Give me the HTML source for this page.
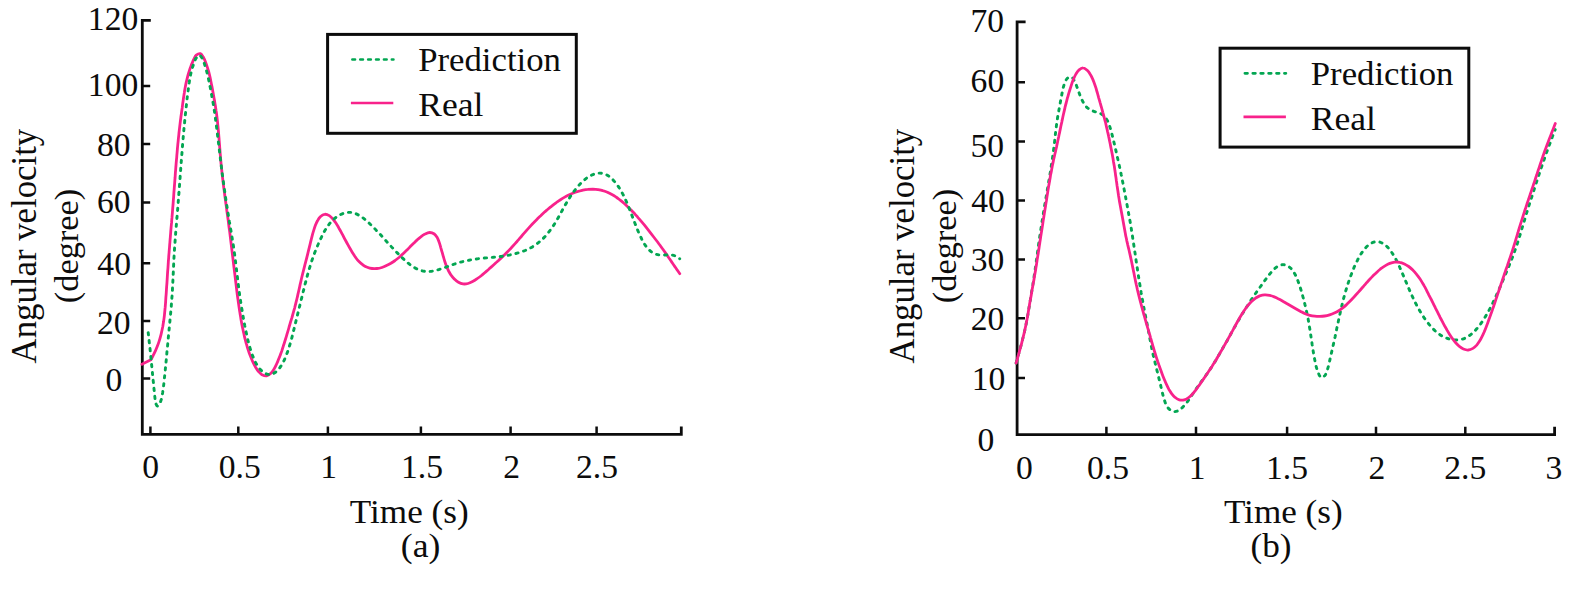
<!DOCTYPE html>
<html lang="en"><head><meta charset="utf-8"><title>Angular velocity: prediction vs real</title>
<style>html,body{margin:0;padding:0;background:#fff}svg{display:block}text{font-family:"Liberation Serif","Times New Roman",Times,serif;font-size:33.6px;fill:#0c0c0c}</style></head><body>
<svg width="1587" height="593" viewBox="0 0 1587 593">
<rect width="1587" height="593" fill="#fff"/>
<path d="M150.8 20.4H142.3V434.4H681.3V426.4" fill="none" stroke="#0c0c0c" stroke-width="2.8"/>
<path d="M142.3 86.1h7.9M142.3 144.0h7.9M142.3 202.6h7.9M142.3 263.3h7.9M142.3 321.0h7.9M142.3 378.4h7.9M150.4 434.4v-8M238.3 434.4v-8M327.9 434.4v-8M420.9 434.4v-8M510.6 434.4v-8M596.6 434.4v-8" fill="none" stroke="#0c0c0c" stroke-width="2.5"/>
<path d="M141.9 364.3L150.9 359.8C151.3 359.1 152.5 356.9 153.2 355.4C154.0 353.9 154.7 352.4 155.4 350.9C156.1 349.4 156.7 347.8 157.3 346.3C157.9 344.7 158.5 343.1 159.0 341.6C159.5 340.0 160.0 338.4 160.4 336.8C160.9 335.1 161.3 333.5 161.6 331.9C162.0 330.3 162.3 328.6 162.7 327.0C163.0 325.4 163.2 323.7 163.5 322.1C163.7 320.4 164.0 318.8 164.2 317.1C164.4 315.5 164.6 313.8 164.7 312.1C164.9 310.5 165.0 308.8 165.2 307.2C165.3 305.5 165.5 303.8 165.6 302.2C165.7 300.5 165.8 298.9 165.9 297.2C166.1 295.5 166.2 293.9 166.3 292.2C166.4 290.5 166.5 288.9 166.6 287.2C166.7 285.6 166.9 283.9 167.0 282.2C167.1 280.6 167.2 278.9 167.3 277.2C167.4 275.6 167.5 273.9 167.6 272.2C167.7 270.6 167.9 268.9 168.0 267.3C168.1 265.6 168.2 263.9 168.3 262.3C168.4 260.6 168.6 258.9 168.7 257.3C168.8 255.6 168.9 254.0 169.1 252.3C169.2 250.6 169.3 249.0 169.5 247.3C169.6 245.6 169.7 244.0 169.9 242.3C170.0 240.7 170.1 239.0 170.3 237.3C170.4 235.7 170.6 234.0 170.7 232.4C170.8 230.7 171.0 229.0 171.1 227.4C171.3 225.7 171.4 224.0 171.6 222.4C171.7 220.7 171.8 219.1 172.0 217.4C172.1 215.7 172.3 214.1 172.4 212.4C172.5 210.8 172.7 209.1 172.8 207.4C172.9 205.8 173.1 204.1 173.2 202.4C173.3 200.8 173.4 199.1 173.6 197.5C173.7 195.8 173.8 194.1 173.9 192.5C174.1 190.8 174.2 189.1 174.3 187.5C174.4 185.8 174.6 184.2 174.7 182.5C174.8 180.8 174.9 179.2 175.1 177.5C175.2 175.8 175.3 174.2 175.4 172.5C175.6 170.9 175.7 169.2 175.8 167.5C176.0 165.9 176.1 164.2 176.2 162.6C176.4 160.9 176.5 159.2 176.7 157.6C176.8 155.9 176.9 154.2 177.1 152.6C177.2 150.9 177.4 149.3 177.5 147.6C177.7 145.9 177.8 144.3 178.0 142.6C178.2 141.0 178.3 139.3 178.5 137.7C178.7 136.0 178.9 134.3 179.0 132.7C179.2 131.0 179.4 129.4 179.6 127.7C179.8 126.1 180.0 124.4 180.2 122.7C180.4 121.1 180.6 119.4 180.8 117.8C181.0 116.1 181.3 114.5 181.5 112.8C181.7 111.2 181.9 109.5 182.2 107.9C182.4 106.2 182.6 104.6 182.8 102.9C183.1 101.3 183.3 99.6 183.5 98.0C183.8 96.3 184.0 94.7 184.3 93.0C184.5 91.4 184.8 89.7 185.1 88.1C185.4 86.4 185.7 84.8 186.0 83.2C186.4 81.5 186.8 79.9 187.2 78.3C187.6 76.7 188.0 75.1 188.5 73.5C189.0 71.9 189.5 70.3 190.0 68.7C190.6 67.1 191.1 65.6 191.7 64.0C192.4 62.5 193.0 60.9 193.7 59.4C194.5 57.9 195.2 56.1 196.3 55.1C197.4 54.2 199.3 53.3 200.5 53.7C201.7 54.1 202.7 56.2 203.5 57.6C204.4 59.0 205.0 60.6 205.6 62.2C206.2 63.7 206.7 65.3 207.2 66.9C207.7 68.5 208.2 70.1 208.7 71.7C209.1 73.3 209.5 74.9 209.9 76.5C210.3 78.2 210.6 79.8 210.9 81.4C211.2 83.1 211.5 84.7 211.9 86.3C212.2 88.0 212.5 89.6 212.8 91.3C213.1 92.9 213.4 94.5 213.7 96.2C214.0 97.8 214.3 99.5 214.6 101.1C214.8 102.7 215.1 104.4 215.4 106.0C215.6 107.7 215.9 109.3 216.1 111.0C216.4 112.6 216.6 114.3 216.8 115.9C217.0 117.6 217.2 119.3 217.4 120.9C217.6 122.6 217.7 124.2 217.9 125.9C218.1 127.5 218.2 129.2 218.4 130.9C218.5 132.5 218.7 134.2 218.8 135.8C219.0 137.5 219.1 139.2 219.2 140.8C219.3 142.5 219.5 144.2 219.6 145.8C219.7 147.5 219.9 149.1 220.0 150.8C220.1 152.5 220.2 154.1 220.4 155.8C220.5 157.4 220.7 159.1 220.8 160.8C220.9 162.4 221.1 164.1 221.3 165.8C221.4 167.4 221.6 169.1 221.8 170.7C221.9 172.4 222.1 174.0 222.3 175.7C222.5 177.4 222.7 179.0 222.9 180.7C223.1 182.3 223.3 184.0 223.5 185.6C223.7 187.3 223.9 188.9 224.2 190.6C224.4 192.2 224.6 193.9 224.8 195.5C225.0 197.2 225.3 198.8 225.5 200.5C225.7 202.2 225.9 203.8 226.2 205.5C226.4 207.1 226.6 208.8 226.8 210.4C227.1 212.1 227.3 213.7 227.5 215.4C227.7 217.0 228.0 218.7 228.2 220.3C228.4 222.0 228.6 223.6 228.8 225.3C229.0 226.9 229.2 228.6 229.5 230.2C229.7 231.9 229.9 233.6 230.1 235.2C230.3 236.9 230.5 238.5 230.7 240.2C230.9 241.8 231.1 243.5 231.3 245.1C231.5 246.8 231.7 248.4 231.9 250.1C232.1 251.8 232.3 253.4 232.5 255.1C232.7 256.7 232.9 258.4 233.1 260.0C233.3 261.7 233.5 263.3 233.7 265.0C233.9 266.6 234.1 268.3 234.3 270.0C234.5 271.6 234.7 273.3 234.9 274.9C235.1 276.6 235.3 278.2 235.5 279.9C235.7 281.6 235.9 283.2 236.1 284.9C236.3 286.5 236.5 288.2 236.7 289.8C236.9 291.5 237.1 293.1 237.3 294.8C237.5 296.4 237.8 298.1 238.0 299.7C238.2 301.4 238.5 303.0 238.7 304.7C238.9 306.3 239.2 308.0 239.4 309.6C239.7 311.3 240.0 312.9 240.2 314.6C240.5 316.2 240.8 317.9 241.0 319.5C241.3 321.2 241.6 322.8 241.9 324.4C242.2 326.1 242.6 327.7 242.9 329.3C243.2 331.0 243.6 332.6 244.0 334.2C244.3 335.9 244.7 337.5 245.1 339.1C245.5 340.7 246.0 342.3 246.4 343.9C246.9 345.5 247.3 347.1 247.8 348.7C248.4 350.3 248.9 351.9 249.4 353.5C250.0 355.0 250.6 356.6 251.2 358.1C251.8 359.7 252.5 361.2 253.2 362.7C253.9 364.2 254.7 365.7 255.5 367.1C256.4 368.6 257.2 370.0 258.3 371.3C259.4 372.5 260.6 373.9 262.0 374.7C263.4 375.4 265.2 376.1 266.7 375.8C268.2 375.6 269.7 374.3 270.9 373.2C272.1 372.1 273.0 370.6 273.9 369.2C274.8 367.8 275.5 366.3 276.2 364.8C277.0 363.3 277.6 361.8 278.2 360.2C278.9 358.7 279.5 357.1 280.1 355.6C280.7 354.0 281.2 352.4 281.8 350.9C282.3 349.3 282.8 347.7 283.3 346.1C283.9 344.5 284.4 342.9 284.8 341.4C285.3 339.8 285.8 338.2 286.3 336.6C286.8 335.0 287.2 333.4 287.7 331.8C288.2 330.2 288.7 328.6 289.1 327.0C289.6 325.4 290.1 323.8 290.5 322.2C291.0 320.6 291.5 319.0 292.0 317.4C292.4 315.8 292.9 314.2 293.3 312.6C293.8 311.0 294.2 309.4 294.7 307.8C295.1 306.1 295.5 304.5 295.9 302.9C296.3 301.3 296.7 299.7 297.1 298.0C297.5 296.4 297.8 294.8 298.2 293.2C298.6 291.5 298.9 289.9 299.3 288.3C299.7 286.7 300.0 285.0 300.4 283.4C300.8 281.8 301.1 280.2 301.5 278.5C301.9 276.9 302.3 275.3 302.7 273.7C303.1 272.1 303.5 270.4 303.9 268.8C304.3 267.2 304.7 265.6 305.1 264.0C305.5 262.4 306.0 260.7 306.4 259.1C306.8 257.5 307.2 255.9 307.6 254.3C308.0 252.7 308.4 251.0 308.8 249.4C309.2 247.8 309.6 246.2 310.0 244.6C310.4 242.9 310.8 241.3 311.2 239.7C311.6 238.1 312.0 236.5 312.4 234.9C312.8 233.3 313.3 231.6 313.8 230.1C314.3 228.5 314.8 226.9 315.4 225.3C316.0 223.8 316.7 222.2 317.5 220.8C318.3 219.3 319.2 217.8 320.3 216.7C321.5 215.6 323.1 214.4 324.6 214.3C326.1 214.1 327.9 214.8 329.3 215.6C330.7 216.4 331.8 217.8 332.9 219.0C334.0 220.3 335.0 221.7 335.9 223.0C336.8 224.4 337.7 225.9 338.5 227.3C339.3 228.8 340.1 230.2 340.9 231.7C341.7 233.2 342.5 234.6 343.3 236.1C344.0 237.6 344.8 239.1 345.6 240.5C346.4 242.0 347.2 243.5 348.0 244.9C348.8 246.4 349.6 247.8 350.5 249.3C351.3 250.7 352.1 252.2 353.0 253.6C353.9 255.0 354.8 256.4 355.8 257.7C356.8 259.1 357.8 260.4 359.0 261.6C360.2 262.8 361.4 263.9 362.8 264.8C364.1 265.8 365.6 266.6 367.2 267.2C368.7 267.8 370.4 268.3 372.0 268.5C373.6 268.7 375.3 268.7 377.0 268.5C378.6 268.4 380.3 268.0 381.9 267.5C383.4 267.0 385.0 266.4 386.5 265.6C388.0 264.9 389.5 264.1 390.9 263.3C392.3 262.4 393.7 261.5 395.1 260.5C396.4 259.5 397.7 258.5 399.0 257.5C400.3 256.4 401.5 255.3 402.7 254.1C404.0 253.0 405.1 251.8 406.3 250.6C407.5 249.4 408.7 248.3 409.8 247.1C411.0 245.9 412.2 244.7 413.4 243.5C414.6 242.4 415.7 241.2 417.0 240.1C418.2 238.9 419.4 237.8 420.8 236.8C422.1 235.8 423.5 234.8 425.0 234.1C426.4 233.4 428.1 232.5 429.7 232.5C431.2 232.5 433.0 233.1 434.3 234.0C435.6 234.9 436.5 236.5 437.4 237.9C438.2 239.4 438.7 241.0 439.3 242.6C439.8 244.1 440.3 245.7 440.7 247.3C441.2 248.9 441.6 250.5 442.1 252.2C442.6 253.8 443.0 255.4 443.5 257.0C443.9 258.6 444.4 260.2 444.9 261.7C445.4 263.3 446.0 264.9 446.6 266.5C447.2 268.0 447.9 269.6 448.6 271.0C449.4 272.5 450.2 274.0 451.2 275.3C452.1 276.7 453.2 278.0 454.4 279.1C455.6 280.3 456.9 281.4 458.4 282.2C459.8 283.0 461.4 283.7 463.0 283.9C464.6 284.1 466.4 283.9 468.0 283.5C469.6 283.1 471.1 282.3 472.6 281.5C474.0 280.8 475.5 279.9 476.8 278.9C478.2 278.0 479.6 277.0 480.9 276.0C482.2 275.0 483.5 273.9 484.7 272.8C486.0 271.7 487.2 270.6 488.5 269.5C489.7 268.4 490.9 267.2 492.2 266.1C493.4 265.0 494.7 263.9 495.9 262.8C497.1 261.7 498.4 260.6 499.6 259.4C500.8 258.3 502.1 257.2 503.3 256.0C504.5 254.9 505.7 253.7 506.8 252.5C508.0 251.3 509.2 250.1 510.3 248.9C511.5 247.7 512.6 246.5 513.7 245.2C514.8 244.0 515.9 242.7 517.0 241.5C518.1 240.2 519.2 239.0 520.3 237.7C521.4 236.4 522.5 235.2 523.5 233.9C524.6 232.7 525.7 231.4 526.8 230.1C527.9 228.9 529.1 227.7 530.2 226.4C531.3 225.2 532.4 224.0 533.6 222.8C534.7 221.6 535.9 220.4 537.1 219.2C538.3 218.0 539.4 216.8 540.7 215.7C541.9 214.5 543.1 213.4 544.3 212.3C545.6 211.2 546.8 210.1 548.1 209.0C549.4 208.0 550.7 206.9 552.0 205.9C553.3 204.8 554.6 203.8 556.0 202.8C557.3 201.9 558.7 200.9 560.1 200.0C561.5 199.1 562.9 198.2 564.3 197.4C565.8 196.5 567.2 195.7 568.7 195.0C570.2 194.3 571.8 193.6 573.3 193.0C574.9 192.4 576.4 191.8 578.0 191.4C579.6 190.9 581.3 190.5 582.9 190.1C584.5 189.8 586.2 189.5 587.8 189.4C589.5 189.2 591.2 189.1 592.8 189.1C594.5 189.2 596.2 189.3 597.8 189.6C599.4 189.9 601.1 190.2 602.7 190.7C604.3 191.1 605.9 191.7 607.4 192.3C608.9 193.0 610.4 193.7 611.9 194.5C613.4 195.3 614.8 196.2 616.2 197.1C617.5 198.1 618.9 199.1 620.2 200.1C621.5 201.1 622.8 202.2 624.0 203.3C625.3 204.4 626.5 205.5 627.7 206.7C628.9 207.8 630.1 209.0 631.3 210.2C632.4 211.4 633.6 212.6 634.7 213.8C635.8 215.1 636.9 216.3 638.0 217.6C639.1 218.8 640.2 220.1 641.3 221.4C642.3 222.6 643.4 223.9 644.5 225.2C645.5 226.5 646.5 227.8 647.6 229.1C648.6 230.4 649.6 231.7 650.7 233.1C651.7 234.4 652.7 235.7 653.7 237.0C654.7 238.3 655.8 239.7 656.8 241.0C657.8 242.3 658.8 243.7 659.8 245.0C660.7 246.3 661.7 247.7 662.7 249.0C663.7 250.4 664.6 251.7 665.6 253.1C666.6 254.5 667.5 255.9 668.4 257.2C669.4 258.6 670.3 260.0 671.3 261.4C672.2 262.7 673.1 264.1 674.1 265.5C675.0 266.9 676.0 268.2 676.9 269.6C677.9 271.0 679.3 273.0 679.8 273.7" fill="none" stroke="#F8228B" stroke-width="2.8" stroke-linecap="round" stroke-linejoin="round"/>
<path d="M148.2 332.6C148.3 333.4 148.6 335.9 148.8 337.6C149.0 339.2 149.1 340.9 149.3 342.6C149.5 344.2 149.7 345.9 149.9 347.5C150.1 349.2 150.2 350.9 150.4 352.5C150.6 354.2 150.8 355.9 150.9 357.5C151.1 359.2 151.3 360.8 151.4 362.5C151.6 364.2 151.7 365.8 151.9 367.5C152.1 369.2 152.2 370.8 152.4 372.5C152.5 374.1 152.7 375.8 152.9 377.5C153.0 379.1 153.2 380.8 153.4 382.5C153.5 384.1 153.7 385.8 153.9 387.4C154.0 389.1 154.2 390.8 154.4 392.4C154.6 394.1 154.7 395.8 154.9 397.4C155.1 399.1 155.0 400.9 155.5 402.4C155.9 403.9 156.8 406.2 157.6 406.1C158.4 406.1 159.7 403.5 160.4 402.0C161.1 400.6 161.5 398.9 161.8 397.2C162.2 395.6 162.4 394.0 162.7 392.3C162.9 390.7 163.1 389.0 163.4 387.3C163.6 385.7 163.8 384.0 164.0 382.4C164.1 380.7 164.3 379.0 164.5 377.4C164.7 375.7 164.9 374.1 165.0 372.4C165.2 370.7 165.4 369.1 165.5 367.4C165.7 365.7 165.9 364.1 166.0 362.4C166.2 360.8 166.3 359.1 166.5 357.4C166.6 355.8 166.8 354.1 166.9 352.4C167.1 350.8 167.2 349.1 167.4 347.4C167.6 345.8 167.7 344.1 167.9 342.5C168.0 340.8 168.2 339.1 168.3 337.5C168.5 335.8 168.6 334.1 168.8 332.5C169.0 330.8 169.1 329.1 169.3 327.5C169.4 325.8 169.6 324.2 169.8 322.5C169.9 320.8 170.1 319.2 170.2 317.5C170.4 315.8 170.6 314.2 170.7 312.5C170.9 310.8 171.0 309.2 171.2 307.5C171.3 305.9 171.4 304.2 171.6 302.5C171.7 300.9 171.8 299.2 171.9 297.5C172.1 295.9 172.2 294.2 172.3 292.5C172.4 290.9 172.5 289.2 172.5 287.5C172.6 285.9 172.7 284.2 172.8 282.5C172.9 280.8 173.0 279.2 173.0 277.5C173.1 275.8 173.2 274.2 173.3 272.5C173.3 270.8 173.4 269.2 173.5 267.5C173.6 265.8 173.7 264.2 173.7 262.5C173.8 260.8 173.9 259.1 174.0 257.5C174.1 255.8 174.2 254.1 174.3 252.5C174.4 250.8 174.5 249.1 174.6 247.5C174.7 245.8 174.9 244.1 175.0 242.5C175.1 240.8 175.2 239.1 175.4 237.5C175.5 235.8 175.6 234.1 175.7 232.5C175.9 230.8 176.0 229.1 176.1 227.5C176.3 225.8 176.4 224.2 176.6 222.5C176.7 220.8 176.8 219.2 177.0 217.5C177.1 215.8 177.3 214.2 177.4 212.5C177.5 210.8 177.7 209.2 177.8 207.5C177.9 205.8 178.1 204.2 178.2 202.5C178.3 200.8 178.5 199.2 178.6 197.5C178.7 195.8 178.8 194.2 179.0 192.5C179.1 190.8 179.2 189.2 179.3 187.5C179.5 185.8 179.6 184.2 179.7 182.5C179.8 180.8 180.0 179.2 180.1 177.5C180.2 175.8 180.3 174.2 180.5 172.5C180.6 170.8 180.7 169.2 180.8 167.5C181.0 165.8 181.1 164.2 181.2 162.5C181.3 160.8 181.5 159.2 181.6 157.5C181.7 155.9 181.9 154.2 182.0 152.5C182.1 150.9 182.2 149.2 182.4 147.5C182.5 145.9 182.6 144.2 182.8 142.5C182.9 140.9 183.1 139.2 183.2 137.5C183.3 135.9 183.5 134.2 183.6 132.5C183.8 130.9 183.9 129.2 184.1 127.5C184.2 125.9 184.4 124.2 184.6 122.6C184.7 120.9 184.9 119.2 185.0 117.6C185.2 115.9 185.4 114.2 185.6 112.6C185.7 110.9 185.9 109.3 186.1 107.6C186.3 105.9 186.5 104.3 186.7 102.6C186.9 101.0 187.0 99.3 187.2 97.6C187.4 96.0 187.6 94.3 187.9 92.7C188.1 91.0 188.3 89.3 188.5 87.7C188.7 86.0 188.9 84.4 189.2 82.7C189.4 81.1 189.7 79.4 190.0 77.8C190.3 76.1 190.6 74.5 191.0 72.9C191.4 71.2 191.8 69.6 192.3 68.0C192.8 66.4 193.3 64.8 193.9 63.3C194.4 61.7 194.9 60.0 195.8 58.7C196.7 57.3 198.1 55.2 199.2 55.2C200.3 55.2 201.6 57.4 202.4 58.7C203.3 60.1 203.7 61.8 204.3 63.4C204.8 65.0 205.3 66.6 205.8 68.2C206.2 69.8 206.7 71.4 207.1 73.0C207.5 74.6 207.9 76.3 208.3 77.9C208.6 79.5 209.0 81.2 209.3 82.8C209.6 84.4 209.9 86.1 210.3 87.7C210.6 89.3 210.9 91.0 211.2 92.6C211.5 94.3 211.8 95.9 212.1 97.6C212.4 99.2 212.7 100.9 213.0 102.5C213.3 104.1 213.5 105.8 213.8 107.4C214.1 109.1 214.3 110.7 214.6 112.4C214.8 114.1 215.0 115.7 215.3 117.4C215.5 119.0 215.7 120.7 215.9 122.3C216.1 124.0 216.4 125.6 216.6 127.3C216.8 129.0 217.0 130.6 217.2 132.3C217.4 133.9 217.6 135.6 217.8 137.3C218.0 138.9 218.2 140.6 218.4 142.2C218.6 143.9 218.8 145.5 219.0 147.2C219.2 148.9 219.4 150.5 219.6 152.2C219.8 153.8 220.0 155.5 220.2 157.2C220.4 158.8 220.6 160.5 220.8 162.1C221.0 163.8 221.2 165.5 221.4 167.1C221.6 168.8 221.8 170.4 222.0 172.1C222.3 173.7 222.5 175.4 222.7 177.1C222.9 178.7 223.1 180.4 223.4 182.0C223.6 183.7 223.8 185.3 224.1 187.0C224.3 188.6 224.5 190.3 224.8 191.9C225.0 193.6 225.2 195.3 225.5 196.9C225.7 198.6 226.0 200.2 226.2 201.9C226.5 203.5 226.7 205.2 227.0 206.8C227.3 208.5 227.5 210.1 227.8 211.8C228.1 213.4 228.3 215.1 228.6 216.7C228.9 218.4 229.2 220.0 229.4 221.7C229.7 223.3 230.0 225.0 230.3 226.6C230.5 228.2 230.8 229.9 231.1 231.5C231.4 233.2 231.6 234.8 231.9 236.5C232.2 238.1 232.4 239.8 232.7 241.4C233.0 243.1 233.2 244.7 233.5 246.4C233.7 248.0 234.0 249.7 234.2 251.4C234.4 253.0 234.7 254.7 234.9 256.3C235.1 258.0 235.3 259.6 235.5 261.3C235.7 262.9 235.9 264.6 236.1 266.3C236.3 267.9 236.5 269.6 236.7 271.2C236.9 272.9 237.1 274.6 237.3 276.2C237.5 277.9 237.7 279.5 237.9 281.2C238.1 282.9 238.3 284.5 238.5 286.2C238.7 287.8 238.9 289.5 239.1 291.1C239.4 292.8 239.6 294.5 239.8 296.1C240.1 297.8 240.3 299.4 240.6 301.1C240.8 302.7 241.1 304.4 241.4 306.0C241.6 307.7 241.9 309.3 242.2 311.0C242.4 312.6 242.7 314.3 243.0 315.9C243.3 317.6 243.6 319.2 243.9 320.8C244.2 322.5 244.5 324.1 244.8 325.8C245.2 327.4 245.5 329.0 245.8 330.7C246.2 332.3 246.5 333.9 246.9 335.6C247.3 337.2 247.6 338.8 248.0 340.5C248.4 342.1 248.8 343.7 249.3 345.3C249.7 346.9 250.2 348.5 250.7 350.1C251.2 351.7 251.7 353.3 252.3 354.9C252.9 356.4 253.5 358.0 254.2 359.5C254.8 361.0 255.6 362.6 256.4 364.0C257.2 365.4 258.1 366.9 259.1 368.2C260.2 369.5 261.4 370.7 262.7 371.7C264.0 372.7 265.5 373.7 267.0 374.1C268.6 374.6 270.4 374.7 272.0 374.2C273.5 373.8 274.9 372.7 276.2 371.7C277.5 370.6 278.6 369.3 279.6 368.0C280.6 366.6 281.5 365.2 282.3 363.8C283.2 362.3 283.9 360.8 284.6 359.3C285.3 357.8 285.9 356.2 286.5 354.7C287.1 353.1 287.7 351.5 288.2 349.9C288.7 348.4 289.2 346.8 289.7 345.2C290.2 343.6 290.7 342.0 291.1 340.4C291.6 338.7 292.0 337.1 292.4 335.5C292.8 333.9 293.2 332.3 293.6 330.6C294.0 329.0 294.4 327.4 294.8 325.8C295.2 324.2 295.6 322.5 296.0 320.9C296.4 319.3 296.8 317.7 297.2 316.0C297.6 314.4 298.0 312.8 298.4 311.2C298.8 309.5 299.2 307.9 299.6 306.3C300.0 304.7 300.4 303.1 300.8 301.4C301.2 299.8 301.6 298.2 302.0 296.6C302.4 295.0 302.8 293.3 303.2 291.7C303.6 290.1 304.0 288.5 304.4 286.8C304.8 285.2 305.2 283.6 305.7 282.0C306.1 280.4 306.5 278.8 306.9 277.1C307.4 275.5 307.8 273.9 308.3 272.3C308.7 270.7 309.2 269.1 309.7 267.5C310.2 265.9 310.7 264.3 311.2 262.7C311.7 261.1 312.2 259.5 312.8 258.0C313.3 256.4 313.9 254.8 314.5 253.3C315.1 251.7 315.7 250.1 316.3 248.6C317.0 247.1 317.6 245.5 318.3 244.0C319.0 242.4 319.6 240.9 320.4 239.4C321.1 237.9 321.8 236.4 322.6 234.9C323.3 233.4 324.1 231.9 324.9 230.5C325.8 229.1 326.7 227.6 327.6 226.3C328.6 224.9 329.6 223.6 330.7 222.3C331.8 221.1 333.0 219.8 334.2 218.8C335.5 217.7 336.8 216.7 338.3 215.8C339.7 214.9 341.2 214.2 342.8 213.6C344.3 213.0 346.0 212.6 347.6 212.4C349.3 212.3 351.0 212.3 352.6 212.6C354.2 213.0 355.8 213.6 357.3 214.4C358.8 215.1 360.2 216.0 361.6 216.9C363.0 217.9 364.3 218.9 365.6 220.0C366.9 221.0 368.1 222.2 369.3 223.3C370.5 224.5 371.7 225.6 372.9 226.8C374.1 228.0 375.3 229.2 376.4 230.4C377.6 231.6 378.7 232.8 379.9 234.0C381.0 235.3 382.1 236.5 383.2 237.7C384.4 239.0 385.5 240.2 386.6 241.5C387.7 242.7 388.8 243.9 390.0 245.2C391.1 246.4 392.2 247.6 393.4 248.8C394.5 250.1 395.7 251.3 396.9 252.5C398.0 253.7 399.2 254.8 400.4 256.0C401.6 257.2 402.8 258.4 404.0 259.5C405.2 260.6 406.4 261.8 407.7 262.8C409.0 263.9 410.3 265.0 411.7 265.9C413.1 266.8 414.5 267.7 416.0 268.5C417.5 269.2 419.0 269.9 420.6 270.4C422.2 270.9 423.9 271.2 425.5 271.4C427.2 271.6 428.9 271.5 430.5 271.4C432.2 271.2 433.8 270.9 435.5 270.5C437.1 270.1 438.7 269.6 440.3 269.1C441.9 268.6 443.4 268.0 445.0 267.5C446.6 266.9 448.1 266.3 449.7 265.7C451.3 265.1 452.8 264.6 454.4 264.0C456.0 263.5 457.6 263.0 459.2 262.5C460.8 262.1 462.4 261.6 464.1 261.3C465.7 260.9 467.3 260.5 469.0 260.2C470.6 259.9 472.2 259.6 473.9 259.3C475.5 259.1 477.2 258.9 478.9 258.6C480.5 258.4 482.2 258.3 483.8 258.1C485.5 257.9 487.2 257.8 488.8 257.7C490.5 257.5 492.2 257.4 493.8 257.2C495.5 257.1 497.2 256.9 498.8 256.7C500.5 256.5 502.1 256.3 503.8 256.0C505.4 255.8 507.1 255.5 508.7 255.2C510.4 254.8 512.0 254.5 513.6 254.1C515.2 253.7 516.9 253.3 518.4 252.8C520.0 252.3 521.6 251.8 523.2 251.2C524.8 250.6 526.3 250.0 527.8 249.2C529.3 248.5 530.8 247.8 532.3 246.9C533.7 246.1 535.1 245.1 536.5 244.2C537.8 243.2 539.1 242.1 540.4 241.1C541.6 240.0 542.8 238.8 544.0 237.6C545.2 236.4 546.3 235.1 547.3 233.8C548.4 232.6 549.4 231.2 550.4 229.9C551.4 228.5 552.4 227.2 553.3 225.8C554.2 224.4 555.1 223.0 556.0 221.6C556.8 220.1 557.7 218.7 558.5 217.2C559.3 215.8 560.1 214.3 560.9 212.8C561.7 211.4 562.5 209.9 563.3 208.4C564.1 207.0 564.9 205.5 565.8 204.1C566.6 202.6 567.5 201.2 568.3 199.8C569.2 198.3 570.1 196.9 571.0 195.5C572.0 194.2 572.9 192.8 573.9 191.4C574.9 190.1 575.9 188.8 577.0 187.5C578.1 186.2 579.2 184.9 580.3 183.7C581.5 182.5 582.7 181.4 584.0 180.3C585.2 179.2 586.5 178.1 587.9 177.2C589.3 176.3 590.8 175.5 592.3 174.8C593.8 174.2 595.5 173.6 597.1 173.3C598.7 173.1 600.5 173.0 602.1 173.3C603.7 173.6 605.3 174.2 606.8 174.9C608.3 175.7 609.6 176.7 610.9 177.8C612.2 178.9 613.3 180.1 614.4 181.4C615.5 182.6 616.5 184.0 617.5 185.3C618.5 186.7 619.4 188.1 620.2 189.5C621.1 190.9 621.9 192.4 622.7 193.9C623.5 195.3 624.2 196.8 624.9 198.4C625.6 199.9 626.3 201.4 627.0 202.9C627.6 204.5 628.2 206.0 628.9 207.6C629.5 209.1 630.1 210.7 630.7 212.2C631.3 213.8 631.9 215.4 632.5 216.9C633.1 218.5 633.7 220.0 634.3 221.6C634.9 223.2 635.5 224.7 636.1 226.3C636.7 227.8 637.3 229.4 638.0 230.9C638.6 232.5 639.3 234.0 640.0 235.5C640.7 237.0 641.4 238.6 642.2 240.0C643.0 241.5 643.8 243.0 644.7 244.4C645.6 245.7 646.6 247.1 647.7 248.4C648.8 249.6 650.0 250.8 651.3 251.8C652.7 252.7 654.2 253.6 655.8 254.1C657.3 254.7 659.0 254.9 660.7 255.1C662.3 255.2 664.0 255.0 665.7 255.0C667.3 254.9 669.0 254.7 670.7 254.8C672.3 255.0 674.0 255.4 675.5 256.1C677.0 256.8 679.0 258.4 679.7 258.8" fill="none" stroke="#03A652" stroke-width="2.9" stroke-dasharray="2.3 5.7" stroke-linecap="round"/>
<text transform="matrix(1.0000 0 0 1.0300 87.84 30.30)">120</text>
<text transform="matrix(1.0000 0 0 1.0300 87.84 95.80)">100</text>
<text transform="matrix(1.0000 0 0 1.0300 97.00 155.50)">80</text>
<text transform="matrix(1.0000 0 0 1.0300 97.00 213.40)">60</text>
<text transform="matrix(1.0000 0 0 1.0300 97.34 275.20)">40</text>
<text transform="matrix(1.0000 0 0 1.0300 96.92 333.50)">20</text>
<text transform="matrix(1.0000 0 0 1.0300 105.40 390.60)">0</text>
<text transform="matrix(1.0000 0 0 1.0300 142.20 478.20)">0</text>
<text transform="matrix(1.0000 0 0 1.0300 218.70 478.20)">0.5</text>
<text transform="matrix(1.0000 0 0 1.0300 320.18 478.20)">1</text>
<text transform="matrix(1.0000 0 0 1.0300 400.94 478.20)">1.5</text>
<text transform="matrix(1.0000 0 0 1.0300 503.37 478.20)">2</text>
<text transform="matrix(1.0000 0 0 1.0300 576.02 478.20)">2.5</text>
<text transform="matrix(1.0468 0 0 1.0000 349.80 523.00)">Time (s)</text>
<text transform="matrix(1.0592 0 0 1.0000 400.80 556.50)">(a)</text>
<text transform="translate(36.40 363.45) rotate(-90) scale(1.0354 1.0400)">Angular velocity</text>
<text transform="translate(77.90 303.15) rotate(-90) scale(1.0226 1.0200)">(degree)</text>
<rect x="327.6" y="34.4" width="248.7" height="98.9" fill="#fff" stroke="#0c0c0c" stroke-width="3"/>
<path d="M352.4 59.5h41" fill="none" stroke="#03A652" stroke-width="2.7" stroke-dasharray="2.6 5.3" stroke-linecap="round"/>
<path d="M350.9 103.0h42.4" fill="none" stroke="#F8228B" stroke-width="2.7"/>
<text transform="matrix(1.0338 0 0 1.0000 418.21 71.40)">Prediction</text>
<text transform="matrix(1.0588 0 0 1.0000 418.18 116.30)">Real</text>
<path d="M1025.6 21.8H1017.1V434.7H1554.6V426.7" fill="none" stroke="#0c0c0c" stroke-width="2.8"/>
<path d="M1017.1 82.3h7.9M1017.1 141.4h7.9M1017.1 200.5h7.9M1017.1 259.5h7.9M1017.1 318.2h7.9M1017.1 377.9h7.9M1106.4 434.7v-8M1196.0 434.7v-8M1287.1 434.7v-8M1376.0 434.7v-8M1465.3 434.7v-8" fill="none" stroke="#0c0c0c" stroke-width="2.5"/>
<path d="M1016.1 363.1C1016.3 362.3 1017.0 359.9 1017.5 358.3C1017.9 356.7 1018.4 355.1 1018.8 353.5C1019.3 351.9 1019.7 350.3 1020.2 348.7C1020.6 347.1 1021.0 345.4 1021.5 343.8C1021.9 342.2 1022.3 340.6 1022.7 339.0C1023.1 337.4 1023.5 335.8 1023.9 334.1C1024.3 332.5 1024.7 330.9 1025.0 329.3C1025.4 327.6 1025.7 326.0 1026.1 324.4C1026.4 322.7 1026.7 321.1 1027.0 319.5C1027.3 317.8 1027.6 316.2 1027.9 314.5C1028.2 312.9 1028.4 311.2 1028.7 309.6C1029.0 308.0 1029.3 306.3 1029.5 304.7C1029.8 303.0 1030.1 301.4 1030.4 299.7C1030.6 298.1 1030.9 296.4 1031.2 294.8C1031.4 293.2 1031.7 291.5 1032.0 289.9C1032.3 288.2 1032.5 286.6 1032.8 284.9C1033.0 283.3 1033.3 281.6 1033.6 280.0C1033.8 278.3 1034.1 276.7 1034.3 275.0C1034.6 273.4 1034.8 271.7 1035.0 270.1C1035.3 268.4 1035.5 266.8 1035.8 265.1C1036.0 263.5 1036.2 261.8 1036.4 260.2C1036.7 258.5 1036.9 256.9 1037.1 255.2C1037.4 253.6 1037.6 251.9 1037.8 250.3C1038.0 248.6 1038.3 247.0 1038.5 245.3C1038.7 243.7 1039.0 242.0 1039.2 240.4C1039.4 238.7 1039.7 237.1 1039.9 235.4C1040.2 233.8 1040.4 232.1 1040.7 230.5C1040.9 228.8 1041.2 227.2 1041.4 225.5C1041.7 223.9 1041.9 222.2 1042.2 220.6C1042.5 219.0 1042.7 217.3 1043.0 215.7C1043.3 214.0 1043.5 212.4 1043.8 210.7C1044.1 209.1 1044.3 207.4 1044.6 205.8C1044.9 204.1 1045.2 202.5 1045.4 200.9C1045.7 199.2 1046.0 197.6 1046.3 195.9C1046.6 194.3 1046.9 192.6 1047.1 191.0C1047.4 189.4 1047.7 187.7 1048.0 186.1C1048.3 184.4 1048.5 182.8 1048.8 181.1C1049.1 179.5 1049.4 177.9 1049.7 176.2C1049.9 174.6 1050.2 172.9 1050.5 171.3C1050.7 169.6 1051.0 168.0 1051.2 166.3C1051.5 164.7 1051.8 163.0 1052.0 161.4C1052.2 159.7 1052.5 158.1 1052.7 156.4C1052.9 154.8 1053.2 153.1 1053.4 151.5C1053.6 149.8 1053.8 148.2 1054.0 146.5C1054.2 144.9 1054.4 143.2 1054.6 141.6C1054.8 139.9 1054.9 138.2 1055.1 136.6C1055.3 134.9 1055.5 133.3 1055.7 131.6C1055.9 130.0 1056.1 128.3 1056.3 126.6C1056.5 125.0 1056.7 123.3 1057.0 121.7C1057.2 120.0 1057.5 118.4 1057.7 116.8C1058.0 115.1 1058.3 113.5 1058.6 111.8C1058.9 110.2 1059.2 108.5 1059.5 106.9C1059.8 105.3 1060.1 103.6 1060.4 102.0C1060.7 100.4 1061.0 98.7 1061.3 97.1C1061.7 95.4 1061.9 93.8 1062.3 92.2C1062.6 90.5 1062.9 88.9 1063.3 87.3C1063.8 85.7 1064.2 84.1 1064.9 82.5C1065.6 81.0 1066.3 79.1 1067.5 78.2C1068.6 77.4 1070.5 76.7 1071.7 77.2C1072.9 77.7 1073.8 79.8 1074.6 81.3C1075.4 82.7 1076.0 84.3 1076.6 85.9C1077.2 87.4 1077.7 89.0 1078.3 90.6C1078.8 92.1 1079.4 93.7 1080.0 95.3C1080.6 96.8 1081.2 98.4 1082.0 99.9C1082.7 101.3 1083.5 102.9 1084.4 104.2C1085.4 105.6 1086.4 107.0 1087.6 108.0C1088.9 109.1 1090.4 110.0 1091.9 110.6C1093.4 111.3 1095.0 111.6 1096.6 112.2C1098.2 112.7 1099.9 113.1 1101.3 113.9C1102.7 114.7 1104.0 115.9 1105.1 117.1C1106.2 118.4 1107.0 119.9 1107.8 121.3C1108.5 122.8 1109.0 124.4 1109.6 126.0C1110.1 127.6 1110.6 129.2 1111.0 130.8C1111.5 132.4 1111.9 134.0 1112.3 135.6C1112.7 137.2 1113.1 138.8 1113.5 140.5C1113.9 142.1 1114.3 143.7 1114.7 145.3C1115.0 147.0 1115.4 148.6 1115.8 150.2C1116.2 151.8 1116.5 153.5 1116.9 155.1C1117.3 156.7 1117.6 158.3 1118.0 160.0C1118.4 161.6 1118.7 163.2 1119.1 164.8C1119.5 166.5 1119.8 168.1 1120.2 169.7C1120.5 171.3 1120.9 173.0 1121.2 174.6C1121.6 176.2 1121.9 177.9 1122.2 179.5C1122.5 181.1 1122.9 182.8 1123.2 184.4C1123.5 186.1 1123.8 187.7 1124.1 189.3C1124.4 191.0 1124.8 192.6 1125.1 194.2C1125.4 195.9 1125.7 197.5 1126.0 199.2C1126.3 200.8 1126.6 202.4 1126.9 204.1C1127.2 205.7 1127.5 207.3 1127.8 209.0C1128.1 210.6 1128.4 212.3 1128.7 213.9C1129.0 215.5 1129.3 217.2 1129.6 218.8C1129.9 220.5 1130.2 222.1 1130.5 223.8C1130.7 225.4 1131.0 227.1 1131.3 228.7C1131.5 230.3 1131.8 232.0 1132.1 233.6C1132.3 235.3 1132.6 236.9 1132.8 238.6C1133.1 240.2 1133.3 241.9 1133.6 243.5C1133.8 245.2 1134.1 246.8 1134.3 248.5C1134.6 250.1 1134.8 251.8 1135.1 253.4C1135.3 255.1 1135.5 256.7 1135.8 258.4C1136.0 260.0 1136.3 261.7 1136.5 263.3C1136.8 265.0 1137.0 266.6 1137.3 268.2C1137.5 269.9 1137.8 271.5 1138.0 273.2C1138.3 274.8 1138.5 276.5 1138.8 278.1C1139.1 279.8 1139.3 281.4 1139.6 283.1C1139.9 284.7 1140.1 286.4 1140.4 288.0C1140.7 289.7 1141.0 291.3 1141.2 292.9C1141.5 294.6 1141.8 296.2 1142.1 297.9C1142.4 299.5 1142.7 301.1 1143.0 302.8C1143.3 304.4 1143.6 306.1 1143.9 307.7C1144.2 309.3 1144.5 311.0 1144.8 312.6C1145.2 314.3 1145.5 315.9 1145.8 317.5C1146.1 319.2 1146.4 320.8 1146.8 322.4C1147.1 324.1 1147.4 325.7 1147.7 327.3C1148.1 329.0 1148.4 330.6 1148.7 332.2C1149.0 333.9 1149.3 335.5 1149.6 337.2C1149.9 338.8 1150.2 340.4 1150.6 342.1C1150.9 343.7 1151.2 345.3 1151.5 347.0C1151.8 348.6 1152.1 350.3 1152.5 351.9C1152.8 353.5 1153.2 355.1 1153.6 356.8C1153.9 358.4 1154.4 360.0 1154.8 361.6C1155.2 363.2 1155.6 364.9 1156.0 366.5C1156.4 368.1 1156.8 369.7 1157.2 371.3C1157.6 372.9 1158.0 374.6 1158.4 376.2C1158.8 377.8 1159.2 379.4 1159.6 381.0C1160.0 382.7 1160.4 384.3 1160.8 385.9C1161.1 387.5 1161.5 389.1 1161.9 390.8C1162.3 392.4 1162.7 394.0 1163.1 395.6C1163.5 397.2 1163.9 398.9 1164.5 400.4C1165.0 402.0 1165.5 403.6 1166.3 405.1C1167.1 406.5 1168.0 408.1 1169.2 409.1C1170.4 410.2 1172.0 411.3 1173.5 411.5C1175.0 411.8 1176.9 411.3 1178.3 410.7C1179.8 410.0 1181.1 408.7 1182.3 407.6C1183.5 406.5 1184.6 405.2 1185.7 403.9C1186.7 402.7 1187.7 401.3 1188.7 400.0C1189.7 398.6 1190.6 397.2 1191.5 395.8C1192.4 394.4 1193.3 393.0 1194.3 391.6C1195.2 390.3 1196.2 388.9 1197.1 387.5C1198.1 386.2 1199.1 384.8 1200.0 383.5C1201.0 382.1 1202.0 380.8 1203.0 379.4C1204.0 378.1 1204.9 376.7 1205.9 375.4C1206.9 374.0 1207.8 372.7 1208.8 371.3C1209.7 369.9 1210.7 368.5 1211.6 367.1C1212.5 365.7 1213.4 364.3 1214.2 362.9C1215.1 361.5 1216.0 360.1 1216.8 358.6C1217.6 357.2 1218.5 355.7 1219.3 354.3C1220.1 352.8 1220.9 351.4 1221.8 349.9C1222.6 348.5 1223.4 347.0 1224.3 345.6C1225.1 344.2 1225.9 342.7 1226.8 341.3C1227.6 339.8 1228.4 338.4 1229.2 336.9C1230.0 335.5 1230.8 334.0 1231.6 332.5C1232.4 331.1 1233.2 329.6 1234.0 328.2C1234.8 326.7 1235.6 325.2 1236.5 323.8C1237.3 322.3 1238.1 320.9 1239.0 319.4C1239.8 318.0 1240.7 316.6 1241.5 315.2C1242.4 313.7 1243.3 312.3 1244.2 310.9C1245.1 309.5 1246.0 308.1 1246.9 306.7C1247.8 305.3 1248.6 303.9 1249.5 302.5C1250.4 301.1 1251.3 299.7 1252.3 298.3C1253.2 296.9 1254.1 295.5 1255.1 294.1C1256.0 292.8 1257.0 291.4 1258.0 290.1C1258.9 288.7 1259.9 287.4 1260.9 286.0C1261.9 284.6 1262.8 283.3 1263.8 281.9C1264.8 280.6 1265.8 279.2 1266.8 277.9C1267.8 276.6 1268.8 275.2 1269.8 273.9C1270.9 272.7 1271.9 271.4 1273.1 270.2C1274.3 269.0 1275.5 267.8 1276.9 266.9C1278.3 266.0 1279.8 265.1 1281.4 264.8C1283.0 264.5 1284.8 264.7 1286.3 265.2C1287.8 265.8 1289.3 266.9 1290.5 268.0C1291.7 269.1 1292.7 270.5 1293.6 271.9C1294.5 273.2 1295.3 274.7 1296.0 276.2C1296.7 277.7 1297.3 279.3 1297.9 280.8C1298.5 282.4 1299.1 284.0 1299.6 285.6C1300.1 287.1 1300.6 288.7 1301.1 290.3C1301.6 291.9 1302.0 293.5 1302.5 295.1C1302.9 296.8 1303.4 298.4 1303.8 300.0C1304.2 301.6 1304.6 303.2 1305.0 304.8C1305.4 306.4 1305.8 308.1 1306.2 309.7C1306.5 311.3 1306.9 312.9 1307.2 314.6C1307.5 316.2 1307.9 317.8 1308.2 319.5C1308.5 321.1 1308.8 322.8 1309.0 324.4C1309.3 326.1 1309.6 327.7 1309.9 329.3C1310.1 331.0 1310.4 332.6 1310.6 334.3C1310.9 335.9 1311.1 337.6 1311.4 339.2C1311.6 340.9 1311.9 342.5 1312.1 344.2C1312.4 345.8 1312.6 347.5 1312.9 349.1C1313.1 350.8 1313.4 352.4 1313.7 354.1C1314.0 355.7 1314.2 357.3 1314.6 359.0C1314.9 360.6 1315.2 362.3 1315.5 363.9C1315.9 365.5 1316.3 367.1 1316.8 368.7C1317.3 370.3 1317.7 371.9 1318.5 373.4C1319.2 374.9 1320.1 377.2 1321.2 377.6C1322.3 377.9 1324.0 376.5 1325.0 375.4C1325.9 374.3 1326.4 372.4 1327.0 370.8C1327.6 369.3 1328.0 367.7 1328.5 366.0C1328.9 364.4 1329.2 362.8 1329.6 361.2C1329.9 359.6 1330.3 357.9 1330.7 356.3C1331.0 354.7 1331.4 353.0 1331.8 351.4C1332.2 349.8 1332.5 348.2 1332.9 346.5C1333.3 344.9 1333.6 343.3 1334.0 341.7C1334.4 340.0 1334.7 338.4 1335.1 336.8C1335.4 335.1 1335.8 333.5 1336.1 331.9C1336.4 330.3 1336.8 328.6 1337.1 327.0C1337.5 325.4 1337.8 323.7 1338.2 322.1C1338.5 320.5 1338.9 318.8 1339.2 317.2C1339.6 315.6 1340.0 314.0 1340.3 312.3C1340.7 310.7 1341.1 309.1 1341.5 307.5C1341.8 305.8 1342.2 304.2 1342.6 302.6C1343.0 301.0 1343.4 299.4 1343.8 297.7C1344.3 296.1 1344.7 294.5 1345.2 292.9C1345.6 291.3 1346.1 289.7 1346.6 288.1C1347.1 286.5 1347.6 285.0 1348.1 283.4C1348.6 281.8 1349.2 280.2 1349.7 278.6C1350.3 277.1 1350.9 275.5 1351.5 273.9C1352.1 272.4 1352.7 270.8 1353.3 269.3C1353.9 267.8 1354.6 266.2 1355.3 264.7C1356.0 263.2 1356.7 261.7 1357.5 260.2C1358.2 258.7 1359.0 257.2 1359.9 255.8C1360.7 254.4 1361.6 253.0 1362.6 251.6C1363.5 250.3 1364.6 248.9 1365.7 247.7C1366.8 246.5 1368.1 245.3 1369.4 244.4C1370.8 243.5 1372.3 242.5 1373.8 242.1C1375.4 241.7 1377.2 241.5 1378.8 241.8C1380.4 242.1 1382.0 242.9 1383.4 243.7C1384.8 244.6 1386.1 245.7 1387.3 246.9C1388.5 248.0 1389.5 249.3 1390.5 250.6C1391.5 252.0 1392.4 253.4 1393.3 254.8C1394.2 256.2 1395.0 257.7 1395.8 259.1C1396.6 260.6 1397.3 262.1 1398.0 263.6C1398.8 265.1 1399.5 266.6 1400.1 268.1C1400.8 269.7 1401.5 271.2 1402.1 272.7C1402.8 274.3 1403.4 275.8 1404.1 277.3C1404.7 278.9 1405.4 280.4 1406.0 281.9C1406.7 283.5 1407.3 285.0 1408.0 286.6C1408.6 288.1 1409.3 289.6 1409.9 291.1C1410.6 292.7 1411.3 294.2 1412.0 295.7C1412.7 297.2 1413.4 298.7 1414.1 300.2C1414.8 301.7 1415.6 303.2 1416.4 304.7C1417.1 306.2 1417.9 307.6 1418.8 309.1C1419.6 310.5 1420.4 312.0 1421.3 313.4C1422.2 314.8 1423.1 316.2 1424.0 317.6C1425.0 319.0 1426.0 320.3 1427.0 321.6C1428.0 323.0 1429.0 324.3 1430.1 325.5C1431.2 326.8 1432.3 328.1 1433.4 329.2C1434.6 330.4 1435.9 331.6 1437.1 332.6C1438.4 333.7 1439.8 334.6 1441.2 335.5C1442.6 336.4 1444.1 337.1 1445.7 337.8C1447.2 338.4 1448.8 338.9 1450.4 339.3C1452.0 339.7 1453.7 340.0 1455.4 340.0C1457.0 340.1 1458.7 340.0 1460.3 339.7C1462.0 339.3 1463.6 338.8 1465.1 338.1C1466.6 337.4 1468.0 336.5 1469.4 335.6C1470.8 334.6 1472.0 333.6 1473.3 332.4C1474.5 331.3 1475.6 330.1 1476.7 328.8C1477.8 327.6 1478.9 326.3 1479.9 324.9C1480.9 323.6 1481.8 322.2 1482.8 320.9C1483.7 319.5 1484.6 318.0 1485.4 316.6C1486.3 315.2 1487.1 313.7 1487.9 312.3C1488.7 310.8 1489.5 309.4 1490.3 307.9C1491.1 306.4 1491.8 304.9 1492.6 303.4C1493.3 301.9 1494.0 300.4 1494.7 298.9C1495.5 297.4 1496.1 295.9 1496.8 294.4C1497.5 292.9 1498.2 291.3 1498.9 289.8C1499.5 288.3 1500.2 286.8 1500.8 285.2C1501.5 283.7 1502.2 282.2 1502.8 280.6C1503.5 279.1 1504.1 277.6 1504.8 276.0C1505.4 274.5 1506.1 272.9 1506.7 271.4C1507.3 269.9 1508.0 268.3 1508.6 266.8C1509.3 265.2 1509.9 263.7 1510.5 262.2C1511.1 260.6 1511.8 259.1 1512.4 257.5C1513.0 256.0 1513.5 254.4 1514.1 252.8C1514.7 251.3 1515.2 249.7 1515.8 248.1C1516.3 246.5 1516.9 245.0 1517.4 243.4C1517.9 241.8 1518.4 240.2 1518.9 238.6C1519.4 237.0 1519.9 235.4 1520.4 233.8C1520.9 232.2 1521.3 230.6 1521.8 229.0C1522.3 227.4 1522.8 225.8 1523.2 224.3C1523.7 222.7 1524.2 221.1 1524.7 219.5C1525.2 217.9 1525.7 216.3 1526.1 214.7C1526.6 213.1 1527.1 211.5 1527.6 209.9C1528.1 208.3 1528.6 206.7 1529.1 205.1C1529.6 203.5 1530.1 202.0 1530.6 200.4C1531.2 198.8 1531.7 197.2 1532.2 195.6C1532.7 194.0 1533.2 192.4 1533.7 190.8C1534.2 189.3 1534.7 187.7 1535.2 186.1C1535.7 184.5 1536.3 182.9 1536.8 181.3C1537.3 179.7 1537.8 178.2 1538.3 176.6C1538.8 175.0 1539.4 173.4 1539.9 171.8C1540.4 170.2 1541.0 168.7 1541.5 167.1C1542.0 165.5 1542.6 163.9 1543.1 162.4C1543.7 160.8 1544.2 159.2 1544.8 157.6C1545.3 156.1 1545.9 154.5 1546.4 152.9C1547.0 151.4 1547.6 149.8 1548.2 148.2C1548.7 146.7 1549.3 145.1 1549.9 143.5C1550.5 142.0 1551.1 140.4 1551.7 138.9C1552.2 137.3 1552.8 135.7 1553.4 134.2C1554.0 132.6 1554.9 130.3 1555.2 129.5" fill="none" stroke="#03A652" stroke-width="2.9" stroke-dasharray="2.3 5.7" stroke-linecap="round"/>
<path d="M1016.1 363.1C1016.3 362.3 1017.0 359.9 1017.5 358.3C1017.9 356.7 1018.4 355.1 1018.8 353.5C1019.3 351.9 1019.7 350.2 1020.2 348.6C1020.6 347.0 1021.1 345.4 1021.5 343.8C1021.9 342.2 1022.3 340.6 1022.7 338.9C1023.1 337.3 1023.5 335.7 1023.9 334.1C1024.3 332.5 1024.7 330.8 1025.0 329.2C1025.4 327.6 1025.7 325.9 1026.0 324.3C1026.4 322.7 1026.7 321.0 1027.0 319.4C1027.3 317.7 1027.6 316.1 1027.9 314.4C1028.2 312.8 1028.4 311.1 1028.7 309.5C1029.0 307.9 1029.3 306.2 1029.5 304.6C1029.8 302.9 1030.1 301.3 1030.4 299.6C1030.7 298.0 1031.0 296.3 1031.3 294.7C1031.6 293.0 1031.8 291.4 1032.1 289.8C1032.4 288.1 1032.7 286.5 1033.0 284.8C1033.3 283.2 1033.6 281.5 1033.9 279.9C1034.2 278.2 1034.5 276.6 1034.7 274.9C1035.0 273.3 1035.3 271.7 1035.6 270.0C1035.8 268.4 1036.1 266.7 1036.4 265.1C1036.6 263.4 1036.9 261.8 1037.1 260.1C1037.4 258.5 1037.7 256.8 1037.9 255.2C1038.2 253.5 1038.4 251.9 1038.7 250.2C1038.9 248.6 1039.2 246.9 1039.4 245.3C1039.7 243.6 1039.9 242.0 1040.2 240.3C1040.4 238.7 1040.7 237.0 1040.9 235.4C1041.2 233.7 1041.5 232.1 1041.7 230.4C1042.0 228.8 1042.2 227.1 1042.5 225.5C1042.7 223.8 1043.0 222.2 1043.2 220.5C1043.5 218.9 1043.8 217.2 1044.0 215.6C1044.3 213.9 1044.5 212.3 1044.8 210.6C1045.1 209.0 1045.3 207.3 1045.6 205.7C1045.8 204.0 1046.1 202.4 1046.4 200.7C1046.6 199.1 1046.9 197.4 1047.1 195.8C1047.4 194.1 1047.7 192.5 1047.9 190.8C1048.2 189.2 1048.5 187.5 1048.7 185.9C1049.0 184.2 1049.3 182.6 1049.6 180.9C1049.9 179.3 1050.2 177.6 1050.4 176.0C1050.7 174.4 1051.0 172.7 1051.4 171.1C1051.7 169.4 1052.0 167.8 1052.3 166.1C1052.6 164.5 1053.0 162.9 1053.3 161.2C1053.6 159.6 1054.0 158.0 1054.4 156.3C1054.7 154.7 1055.1 153.1 1055.5 151.5C1055.8 149.8 1056.2 148.2 1056.6 146.6C1056.9 144.9 1057.3 143.3 1057.6 141.7C1058.0 140.0 1058.3 138.4 1058.7 136.8C1059.0 135.1 1059.4 133.5 1059.7 131.9C1060.1 130.2 1060.4 128.6 1060.7 127.0C1061.1 125.3 1061.4 123.7 1061.8 122.1C1062.1 120.4 1062.5 118.8 1062.8 117.2C1063.2 115.5 1063.5 113.9 1063.9 112.3C1064.3 110.6 1064.7 109.0 1065.0 107.4C1065.4 105.8 1065.8 104.2 1066.3 102.5C1066.7 100.9 1067.1 99.3 1067.5 97.7C1068.0 96.1 1068.4 94.5 1068.9 92.9C1069.4 91.3 1069.9 89.7 1070.4 88.1C1070.9 86.5 1071.4 84.9 1071.9 83.3C1072.5 81.8 1073.1 80.2 1073.7 78.6C1074.4 77.1 1075.0 75.6 1075.9 74.1C1076.7 72.7 1077.6 71.1 1078.8 70.1C1080.0 69.0 1081.7 67.7 1083.1 67.8C1084.5 67.8 1086.0 69.2 1087.2 70.3C1088.4 71.4 1089.4 72.9 1090.2 74.3C1091.1 75.7 1091.9 77.3 1092.6 78.8C1093.3 80.3 1093.8 81.9 1094.4 83.4C1095.0 85.0 1095.5 86.6 1096.0 88.2C1096.4 89.8 1096.9 91.4 1097.4 93.0C1097.8 94.6 1098.3 96.2 1098.7 97.8C1099.2 99.4 1099.7 101.0 1100.1 102.6C1100.6 104.2 1101.0 105.9 1101.5 107.5C1101.9 109.1 1102.4 110.7 1102.8 112.3C1103.3 113.9 1103.7 115.5 1104.1 117.1C1104.5 118.7 1105.0 120.4 1105.4 122.0C1105.8 123.6 1106.1 125.2 1106.5 126.9C1106.9 128.5 1107.3 130.1 1107.6 131.7C1108.0 133.4 1108.4 135.0 1108.7 136.6C1109.1 138.3 1109.4 139.9 1109.7 141.5C1110.1 143.2 1110.4 144.8 1110.7 146.5C1111.0 148.1 1111.4 149.7 1111.7 151.4C1112.0 153.0 1112.3 154.7 1112.6 156.3C1112.9 157.9 1113.2 159.6 1113.4 161.2C1113.7 162.9 1114.0 164.5 1114.3 166.2C1114.5 167.8 1114.8 169.5 1115.0 171.1C1115.3 172.8 1115.5 174.4 1115.7 176.1C1116.0 177.7 1116.2 179.4 1116.4 181.0C1116.7 182.7 1116.9 184.4 1117.1 186.0C1117.4 187.7 1117.6 189.3 1117.9 191.0C1118.1 192.6 1118.4 194.3 1118.6 195.9C1118.9 197.6 1119.1 199.2 1119.4 200.9C1119.7 202.5 1120.0 204.1 1120.3 205.8C1120.6 207.4 1120.9 209.1 1121.2 210.7C1121.5 212.4 1121.8 214.0 1122.1 215.6C1122.4 217.3 1122.7 218.9 1123.0 220.6C1123.3 222.2 1123.6 223.9 1123.9 225.5C1124.2 227.1 1124.5 228.8 1124.8 230.4C1125.1 232.1 1125.4 233.7 1125.7 235.4C1126.0 237.0 1126.4 238.6 1126.7 240.3C1127.1 241.9 1127.5 243.5 1127.8 245.1C1128.2 246.8 1128.6 248.4 1129.0 250.0C1129.4 251.7 1129.7 253.3 1130.1 254.9C1130.5 256.5 1130.8 258.2 1131.2 259.8C1131.5 261.4 1131.9 263.1 1132.2 264.7C1132.5 266.3 1132.9 268.0 1133.2 269.6C1133.5 271.3 1133.9 272.9 1134.2 274.5C1134.5 276.2 1134.9 277.8 1135.2 279.4C1135.5 281.1 1135.9 282.7 1136.2 284.3C1136.6 286.0 1137.0 287.6 1137.3 289.2C1137.7 290.9 1138.1 292.5 1138.5 294.1C1138.9 295.7 1139.3 297.3 1139.7 299.0C1140.1 300.6 1140.5 302.2 1141.0 303.8C1141.4 305.4 1141.8 307.0 1142.3 308.6C1142.7 310.3 1143.2 311.9 1143.6 313.5C1144.1 315.1 1144.5 316.7 1145.0 318.3C1145.4 319.9 1145.9 321.5 1146.3 323.1C1146.8 324.7 1147.3 326.3 1147.7 327.9C1148.2 329.5 1148.7 331.1 1149.1 332.7C1149.6 334.3 1150.1 335.9 1150.5 337.6C1151.0 339.2 1151.4 340.8 1151.9 342.4C1152.4 344.0 1152.8 345.6 1153.3 347.2C1153.8 348.8 1154.2 350.4 1154.7 352.0C1155.2 353.6 1155.7 355.2 1156.2 356.8C1156.7 358.4 1157.2 359.9 1157.7 361.5C1158.3 363.1 1158.8 364.7 1159.4 366.3C1159.9 367.8 1160.5 369.4 1161.1 371.0C1161.6 372.6 1162.2 374.1 1162.8 375.7C1163.4 377.2 1164.0 378.8 1164.7 380.3C1165.3 381.9 1166.0 383.4 1166.7 384.9C1167.4 386.4 1168.1 387.9 1168.9 389.4C1169.8 390.8 1170.6 392.3 1171.6 393.6C1172.6 394.9 1173.7 396.3 1175.0 397.3C1176.2 398.4 1177.7 399.4 1179.3 399.8C1180.8 400.3 1182.6 400.3 1184.2 399.9C1185.8 399.5 1187.3 398.5 1188.6 397.6C1190.0 396.7 1191.2 395.4 1192.3 394.2C1193.5 393.0 1194.5 391.7 1195.5 390.4C1196.5 389.0 1197.5 387.7 1198.4 386.3C1199.4 384.9 1200.4 383.6 1201.3 382.2C1202.3 380.8 1203.2 379.4 1204.1 378.1C1205.1 376.7 1206.0 375.3 1207.0 373.9C1207.9 372.6 1208.9 371.2 1209.8 369.8C1210.7 368.4 1211.7 367.0 1212.5 365.6C1213.4 364.2 1214.3 362.8 1215.2 361.3C1216.0 359.9 1216.9 358.5 1217.7 357.0C1218.5 355.6 1219.4 354.1 1220.2 352.7C1221.0 351.2 1221.9 349.8 1222.7 348.3C1223.5 346.9 1224.4 345.4 1225.2 344.0C1226.0 342.5 1226.9 341.1 1227.7 339.6C1228.5 338.2 1229.3 336.7 1230.1 335.3C1230.9 333.8 1231.7 332.3 1232.5 330.9C1233.3 329.4 1234.1 327.9 1234.9 326.4C1235.7 325.0 1236.5 323.5 1237.3 322.0C1238.1 320.6 1238.9 319.1 1239.7 317.7C1240.6 316.2 1241.4 314.8 1242.3 313.4C1243.2 312.0 1244.1 310.6 1245.1 309.2C1246.0 307.8 1247.0 306.5 1248.1 305.2C1249.2 304.0 1250.3 302.7 1251.5 301.5C1252.7 300.4 1254.0 299.3 1255.3 298.3C1256.7 297.4 1258.2 296.5 1259.7 295.9C1261.3 295.4 1263.0 295.0 1264.6 294.9C1266.2 294.8 1268.0 295.0 1269.6 295.3C1271.2 295.7 1272.8 296.3 1274.3 296.9C1275.9 297.5 1277.4 298.3 1278.8 299.1C1280.3 299.8 1281.8 300.7 1283.2 301.5C1284.7 302.3 1286.1 303.2 1287.6 304.0C1289.0 304.8 1290.5 305.7 1291.9 306.5C1293.3 307.3 1294.8 308.2 1296.2 309.0C1297.7 309.9 1299.1 310.7 1300.6 311.5C1302.1 312.3 1303.5 313.1 1305.1 313.7C1306.6 314.3 1308.2 314.9 1309.8 315.3C1311.4 315.7 1313.1 316.0 1314.8 316.2C1316.4 316.4 1318.1 316.4 1319.8 316.4C1321.4 316.4 1323.1 316.3 1324.7 316.0C1326.4 315.8 1328.0 315.4 1329.6 314.9C1331.2 314.4 1332.8 313.8 1334.3 313.1C1335.8 312.4 1337.3 311.6 1338.7 310.7C1340.1 309.8 1341.5 308.8 1342.8 307.8C1344.1 306.8 1345.4 305.7 1346.6 304.6C1347.8 303.4 1349.0 302.3 1350.2 301.1C1351.4 299.9 1352.5 298.7 1353.6 297.4C1354.8 296.2 1355.9 295.0 1357.0 293.7C1358.1 292.5 1359.2 291.2 1360.3 290.0C1361.4 288.7 1362.5 287.4 1363.6 286.2C1364.7 284.9 1365.8 283.7 1366.9 282.4C1368.1 281.2 1369.2 280.0 1370.3 278.7C1371.5 277.5 1372.6 276.3 1373.8 275.1C1375.0 273.9 1376.2 272.8 1377.4 271.7C1378.6 270.5 1379.9 269.5 1381.2 268.4C1382.6 267.4 1383.9 266.5 1385.4 265.6C1386.8 264.8 1388.3 264.0 1389.8 263.4C1391.4 262.8 1393.0 262.3 1394.7 262.1C1396.3 261.9 1398.0 262.0 1399.7 262.3C1401.3 262.5 1402.9 263.2 1404.4 263.9C1405.9 264.6 1407.3 265.5 1408.7 266.5C1410.0 267.4 1411.3 268.6 1412.5 269.7C1413.7 270.9 1414.8 272.1 1415.8 273.4C1416.9 274.7 1417.9 276.0 1418.9 277.4C1419.9 278.7 1420.8 280.1 1421.7 281.6C1422.5 283.0 1423.4 284.4 1424.2 285.9C1425.0 287.3 1425.8 288.8 1426.6 290.3C1427.3 291.8 1428.1 293.3 1428.8 294.8C1429.6 296.3 1430.3 297.8 1431.1 299.2C1431.8 300.7 1432.5 302.2 1433.3 303.7C1434.0 305.2 1434.8 306.7 1435.5 308.2C1436.3 309.7 1437.0 311.2 1437.8 312.7C1438.5 314.2 1439.3 315.7 1440.0 317.2C1440.8 318.6 1441.6 320.1 1442.4 321.6C1443.2 323.1 1443.9 324.5 1444.7 326.0C1445.6 327.5 1446.4 328.9 1447.2 330.4C1448.0 331.8 1448.9 333.3 1449.8 334.7C1450.7 336.1 1451.6 337.5 1452.6 338.8C1453.5 340.2 1454.6 341.5 1455.7 342.8C1456.8 344.0 1457.9 345.2 1459.2 346.3C1460.5 347.3 1461.9 348.4 1463.4 349.0C1464.9 349.6 1466.7 350.2 1468.3 350.0C1469.9 349.9 1471.5 349.2 1472.9 348.4C1474.3 347.5 1475.6 346.3 1476.7 345.1C1477.8 343.8 1478.7 342.4 1479.6 341.0C1480.5 339.6 1481.3 338.1 1482.0 336.6C1482.8 335.1 1483.4 333.6 1484.1 332.1C1484.8 330.5 1485.4 329.0 1486.0 327.4C1486.6 325.9 1487.2 324.3 1487.8 322.7C1488.4 321.2 1488.9 319.6 1489.5 318.0C1490.1 316.5 1490.6 314.9 1491.2 313.3C1491.8 311.7 1492.3 310.2 1492.8 308.6C1493.4 307.0 1493.9 305.4 1494.5 303.8C1495.0 302.3 1495.5 300.7 1496.0 299.1C1496.6 297.5 1497.1 295.9 1497.6 294.3C1498.2 292.8 1498.7 291.2 1499.2 289.6C1499.7 288.0 1500.3 286.4 1500.8 284.8C1501.3 283.3 1501.9 281.7 1502.4 280.1C1502.9 278.5 1503.5 276.9 1504.0 275.3C1504.5 273.8 1505.1 272.2 1505.6 270.6C1506.2 269.0 1506.7 267.5 1507.3 265.9C1507.8 264.3 1508.4 262.7 1508.9 261.1C1509.4 259.6 1510.0 258.0 1510.5 256.4C1511.0 254.8 1511.6 253.2 1512.1 251.6C1512.6 250.0 1513.1 248.4 1513.6 246.9C1514.1 245.3 1514.6 243.7 1515.1 242.1C1515.6 240.5 1516.0 238.9 1516.5 237.3C1517.0 235.7 1517.5 234.1 1518.0 232.5C1518.4 230.9 1518.9 229.3 1519.4 227.7C1519.9 226.1 1520.4 224.5 1520.9 222.9C1521.4 221.3 1521.9 219.7 1522.4 218.1C1522.9 216.5 1523.4 214.9 1523.9 213.3C1524.4 211.7 1524.9 210.2 1525.5 208.6C1526.0 207.0 1526.5 205.4 1527.0 203.8C1527.6 202.2 1528.1 200.7 1528.6 199.1C1529.2 197.5 1529.7 195.9 1530.2 194.3C1530.8 192.7 1531.3 191.2 1531.8 189.6C1532.4 188.0 1532.9 186.4 1533.4 184.8C1534.0 183.2 1534.5 181.7 1535.0 180.1C1535.5 178.5 1536.0 176.9 1536.6 175.3C1537.1 173.7 1537.6 172.1 1538.1 170.6C1538.7 169.0 1539.2 167.4 1539.7 165.8C1540.2 164.2 1540.8 162.6 1541.3 161.1C1541.8 159.5 1542.4 157.9 1542.9 156.3C1543.5 154.7 1544.0 153.2 1544.6 151.6C1545.2 150.0 1545.7 148.5 1546.3 146.9C1546.9 145.3 1547.5 143.8 1548.1 142.2C1548.7 140.6 1549.3 139.1 1549.9 137.5C1550.5 135.9 1551.1 134.4 1551.7 132.8C1552.3 131.3 1552.9 129.7 1553.5 128.2C1554.1 126.6 1555.0 124.3 1555.3 123.5" fill="none" stroke="#F8228B" stroke-width="2.8" stroke-linecap="round" stroke-linejoin="round"/>
<text transform="matrix(1.0000 0 0 1.0300 970.58 31.80)">70</text>
<text transform="matrix(1.0000 0 0 1.0300 970.60 92.00)">60</text>
<text transform="matrix(1.0000 0 0 1.0300 970.46 156.80)">50</text>
<text transform="matrix(1.0000 0 0 1.0300 971.14 212.00)">40</text>
<text transform="matrix(1.0000 0 0 1.0300 970.72 270.60)">30</text>
<text transform="matrix(1.0000 0 0 1.0300 970.72 330.10)">20</text>
<text transform="matrix(1.0000 0 0 1.0300 971.64 389.90)">10</text>
<text transform="matrix(1.0000 0 0 1.0300 977.40 451.20)">0</text>
<text transform="matrix(1.0000 0 0 1.0300 1016.10 479.00)">0</text>
<text transform="matrix(1.0000 0 0 1.0300 1087.00 479.00)">0.5</text>
<text transform="matrix(1.0000 0 0 1.0300 1188.68 479.00)">1</text>
<text transform="matrix(1.0000 0 0 1.0300 1266.04 479.00)">1.5</text>
<text transform="matrix(1.0000 0 0 1.0300 1368.57 479.00)">2</text>
<text transform="matrix(1.0000 0 0 1.0300 1444.22 479.00)">2.5</text>
<text transform="matrix(1.0000 0 0 1.0300 1545.42 479.00)">3</text>
<text transform="matrix(1.0459 0 0 1.0000 1223.90 523.40)">Time (s)</text>
<text transform="matrix(1.0472 0 0 1.0000 1250.52 557.20)">(b)</text>
<text transform="translate(914.10 363.45) rotate(-90) scale(1.0354 1.0400)">Angular velocity</text>
<text transform="translate(955.60 303.15) rotate(-90) scale(1.0226 1.0200)">(degree)</text>
<rect x="1220.1" y="48.2" width="248.7" height="98.9" fill="#fff" stroke="#0c0c0c" stroke-width="3"/>
<path d="M1244.9 73.3h41" fill="none" stroke="#03A652" stroke-width="2.7" stroke-dasharray="2.6 5.3" stroke-linecap="round"/>
<path d="M1243.5 116.8h42.4" fill="none" stroke="#F8228B" stroke-width="2.7"/>
<text transform="matrix(1.0338 0 0 1.0000 1310.76 85.20)">Prediction</text>
<text transform="matrix(1.0588 0 0 1.0000 1310.73 130.10)">Real</text>
</svg></body></html>
